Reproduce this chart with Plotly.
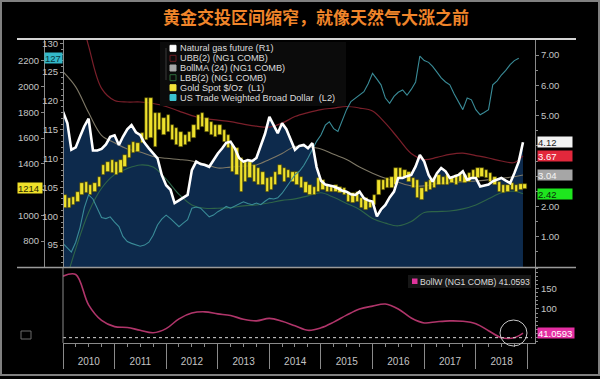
import plotly.graph_objects as go
import pandas as pd

# ---------------- data ----------------
title_text = "黄金交投区间缩窄，就像天然气大涨之前"
months = pd.date_range("2010-01-01", periods=108, freq="MS")

natgas = [5.13, 4.75, 3.87, 3.95, 4.30, 4.65, 4.90, 3.85, 3.85, 3.90, 4.05, 4.30,
          4.35, 4.03, 4.30, 4.55, 4.69, 4.45, 4.36, 4.10, 3.92, 3.75, 3.59, 3.04,
          2.70, 2.55, 2.11, 2.20, 2.30, 2.38, 3.20, 3.48, 3.40, 3.37, 3.31, 3.55,
          3.75, 3.92, 4.10, 4.14, 3.92, 3.60, 3.48, 3.53, 3.50, 3.60, 4.03, 4.40,
          4.96, 4.69, 4.42, 4.75, 4.55, 4.20, 3.87, 4.00, 4.03, 3.92, 4.09, 3.30,
          2.85, 2.72, 2.70, 2.66, 2.60, 2.52, 2.49, 2.40, 2.38, 2.49, 2.27, 2.20,
          2.16, 1.67, 1.90, 2.05, 2.30, 2.49, 2.94, 2.94, 3.00, 3.04, 3.32, 3.70,
          3.48, 3.04, 2.82, 3.10, 3.27, 3.16, 2.94, 3.00, 3.04, 3.16, 2.88, 2.94,
          2.94, 2.66, 2.70, 2.72, 2.83, 2.88, 2.94, 2.85, 2.77, 3.10, 3.48, 4.12]

gold_low = [1056, 1056, 1080, 1103, 1157, 1173, 1157, 1181, 1219, 1313, 1336, 1328,
            1313, 1328, 1375, 1445, 1483, 1491, 1561, 1584, 1600, 1530, 1662, 1623,
            1646, 1584, 1546, 1530, 1546, 1569, 1600, 1662, 1685, 1646, 1623, 1608,
            1623, 1569, 1522, 1336, 1313, 1181, 1258, 1289, 1258, 1235, 1235, 1181,
            1196, 1235, 1313, 1258, 1289, 1258, 1235, 1212, 1173, 1157, 1157, 1181,
            1196, 1181, 1181, 1181, 1173, 1157, 1103, 1095, 1103, 1056, 1041, 1056,
            1080, 1157, 1196, 1212, 1212, 1235, 1289, 1289, 1258, 1212, 1134, 1119,
            1181, 1196, 1212, 1235, 1235, 1235, 1250, 1235, 1258, 1250, 1258, 1289,
            1289, 1297, 1289, 1258, 1235, 1181, 1173, 1181, 1196, 1181, 1196, 1205]
gold_high = [1157, 1134, 1142, 1181, 1250, 1258, 1235, 1250, 1297, 1390, 1413, 1429,
             1413, 1429, 1468, 1546, 1569, 1561, 1639, 1910, 1910, 1794, 1794, 1755,
             1778, 1701, 1677, 1646, 1623, 1646, 1701, 1778, 1794, 1755, 1724, 1701,
             1701, 1662, 1623, 1546, 1522, 1445, 1413, 1413, 1390, 1367, 1336, 1289,
             1297, 1336, 1390, 1367, 1351, 1336, 1336, 1297, 1258, 1235, 1219, 1289,
             1274, 1235, 1219, 1235, 1219, 1212, 1181, 1173, 1181, 1134, 1134, 1103,
             1160, 1274, 1274, 1289, 1297, 1367, 1367, 1351, 1336, 1289, 1274, 1212,
             1258, 1274, 1289, 1313, 1297, 1313, 1297, 1313, 1328, 1313, 1328, 1351,
             1367, 1367, 1351, 1328, 1297, 1258, 1235, 1235, 1250, 1235, 1240, 1245]
gold_last = 1214

dollar = [95.3, 94.5, 93.8, 95.5, 98.0, 101.5, 103.7, 103.0, 101.5, 99.8, 99.6, 99.9,
          99.0, 98.2, 96.5, 95.6, 95.3, 95.0, 94.8, 95.0, 95.5, 96.7, 98.5, 99.5,
          100.2, 99.6, 99.0, 98.2, 98.8, 99.4, 101.4, 101.6, 101.4, 100.6, 99.9, 100.2,
          100.8, 101.2, 101.7, 101.4, 101.8, 102.2, 102.5, 102.2, 102.0, 102.3, 102.0, 102.6,
          103.1, 103.0, 103.2, 104.0, 105.0, 106.2, 107.2, 107.8, 108.8, 110.1, 111.5, 113.0,
          114.1, 115.8, 116.4, 115.2, 114.7, 116.5, 118.5, 119.9, 120.5, 121.0, 121.6, 123.0,
          124.8, 123.8, 122.8, 120.5, 119.6, 120.8, 121.5, 121.9, 121.0, 122.0, 123.3, 127.8,
          127.0, 126.7, 126.0, 125.0, 124.0, 123.3, 122.8, 121.2, 119.9, 118.5, 120.5, 120.2,
          118.5, 117.6, 118.0, 118.5, 122.8, 123.5, 124.5, 125.3, 126.3, 127.0, 127.4]

band_idx = list(range(0, 108, 3)) + [107]
ubb = [10.5, 9.0, 7.3, 5.9, 5.5, 5.45, 5.45, 5.4, 5.3, 5.15, 5.0, 4.9,
       4.85, 4.8, 4.72, 4.65, 4.62, 4.75, 4.97, 5.1, 5.2, 5.25, 5.3, 5.25,
       5.15, 4.75, 4.25, 3.75, 3.55, 3.62, 3.72, 3.76, 3.68, 3.6, 3.5, 3.45, 3.67]
boll_ma = [6.45, 5.95, 5.1, 4.35, 4.1, 3.9, 3.8, 3.65, 3.59, 3.55, 3.5, 3.4,
           3.27, 3.3, 3.33, 3.37, 3.55, 3.75, 3.98, 3.97, 3.9, 3.72, 3.55, 3.3,
           3.1, 2.93, 2.8, 2.68, 2.68, 2.75, 2.78, 2.82, 2.84, 2.88, 2.93, 2.98, 3.04]
lbb = [-0.8, 0.6, 1.8, 2.6, 3.05, 3.25, 3.37, 3.3, 2.9, 2.4, 2.05, 1.94,
       1.94, 1.96, 2.02, 2.05, 2.12, 2.2, 2.25, 2.35, 2.45, 2.3, 2.1, 1.9,
       1.6, 1.45, 1.36, 1.5, 1.8, 1.83, 1.85, 1.92, 2.05, 2.25, 2.45, 2.5, 2.42]
bollw = [180, 184, 110, 72, 57, 55, 48, 42, 52, 76, 90, 93,
         88, 84, 75, 71, 77, 70, 59, 48, 54, 68, 85, 100,
         107, 112, 100, 78, 66, 69, 71, 70, 64, 47, 30, 30, 41.0593]

legend_labels = ["Natural gas future (R1)", "UBB(2) (NG1 COMB)", "BollMA (24) (NG1 COMB)",
                 "LBB(2) (NG1 COMB)", "Gold Spot $/Oz  (L1)", "US Trade Weighted Broad Dollar  (L2)"]
bollw_label = "BollW (NG1 COMB)"

r1_ticks = [1, 2, 3, 4, 5, 6, 7]
r1_text = ["1.00", "2.00", "", "", "5.00", "6.00", "7.00"]
l1_ticks = [800, 1000, 1200, 1400, 1600, 1800, 2000, 2200]
l1_text = ["800", "1000", "", "1400", "1600", "1800", "2000", "2200"]
l2_ticks = [95, 100, 105, 110, 115, 120, 125, 130]
bw_ticks = [50, 100, 150]
bw_text = ["", "100", "150"]

# ---------------- geometry helpers ----------------
W, H = 600, 379
def px(x): return x / W
def py(y): return 1 - y / H

band_dates = months[band_idx]
x_range = ["2010-01-01", "2019-02-24"]

NAVY = "#0d2a4c"
GOLD = "#efe12c"
TEAL = "#3a8c98"
UBB_C = "#7a1f2a"
MA_C = "#7e7866"
LBB_C = "#2e6448"
PINK = "#b0356a"
TICK = "#c4c4c4"
AX = "#8a8a8a"
FONT = "Liberation Sans"

fig = go.Figure()

fig.add_trace(go.Scatter(x=months, y=natgas, xaxis="x", yaxis="y", mode="lines",
                         line=dict(width=0, color=NAVY), fill="tozeroy", fillcolor=NAVY,
                         hoverinfo="skip", showlegend=False))
fig.add_trace(go.Scatter(x=band_dates, y=ubb, xaxis="x", yaxis="y", mode="lines",
                         line=dict(width=1.2, color=UBB_C, shape="spline"), showlegend=False))
fig.add_trace(go.Scatter(x=band_dates, y=boll_ma, xaxis="x", yaxis="y", mode="lines",
                         line=dict(width=1.1, color=MA_C, shape="spline"), showlegend=False))
fig.add_trace(go.Scatter(x=band_dates, y=lbb, xaxis="x", yaxis="y", mode="lines",
                         line=dict(width=1.1, color=LBB_C, shape="spline"), showlegend=False))
fig.add_trace(go.Bar(x=months, y=[h - l for h, l in zip(gold_high, gold_low)], base=gold_low,
                     xaxis="x", yaxis="y2", xperiod="M1", xperiodalignment="middle",
                     width=24 * 86400000, marker=dict(color=GOLD, line=dict(color="#3b3600", width=0.6)),
                     showlegend=False))
fig.add_trace(go.Scatter(x=months[:len(dollar)], y=dollar, xaxis="x", yaxis="y3", mode="lines",
                         line=dict(width=1.1, color=TEAL), showlegend=False))
fig.add_trace(go.Scatter(x=months, y=natgas, xaxis="x", yaxis="y5", mode="lines",
                         line=dict(width=2.6, color="#ffffff"), showlegend=False))
fig.add_trace(go.Scatter(x=band_dates, y=bollw, xaxis="x2", yaxis="y4", mode="lines",
                         line=dict(width=1.6, color=PINK, shape="spline"), showlegend=False))
fig.add_trace(go.Scatter(x=[months[0], months[-1] + pd.DateOffset(months=2)], y=[min(bollw)] * 2,
                         xaxis="x3", yaxis="y4", mode="lines",
                         line=dict(width=1, color="#d8d8d8", dash="dot"), hoverinfo="skip", showlegend=False))

tickfont = dict(family=FONT, size=9.5, color=TICK)
xdom = [px(63), px(535)]
main_dom = [py(267), py(39)]
sub_dom = [py(343), py(268)]

fig.update_layout(
    width=W, height=H, margin=dict(l=0, r=0, t=0, b=0),
    paper_bgcolor="#000000", plot_bgcolor="#000000", showlegend=False,
    bargap=0, font=dict(family=FONT, color=TICK),
    xaxis=dict(domain=xdom, anchor="y", range=x_range, showticklabels=False, showgrid=False,
               zeroline=False, showline=False, ticks=""),
    xaxis2=dict(domain=xdom, anchor="y4", range=x_range, showticklabels=False, showgrid=False,
                zeroline=False, showline=True, linecolor=AX, linewidth=1,
                ticks="outside", ticklen=25, tickcolor=AX, tickwidth=1,
                tick0="2010-01-01", dtick="M12",
                minor=dict(ticks="outside", ticklen=3, tickcolor=AX, dtick="M3", showgrid=False)),
    xaxis3=dict(overlaying="x2", anchor="y4", range=x_range, showgrid=False, zeroline=False,
                showline=False, ticks="outside", ticklen=9, tickcolor="rgba(0,0,0,0)",
                tick0="2010-01-01", dtick="M12", ticklabelmode="period", tickformat="%Y",
                tickfont=dict(family=FONT, size=10, color=TICK)),
    yaxis=dict(domain=main_dom, anchor="x", side="right", range=[0, 7.53],
               tickvals=r1_ticks, ticktext=r1_text, ticks="outside", ticklen=3,
               tickcolor=AX, showline=True, linecolor=AX, showgrid=False, zeroline=False,
               minor=dict(ticks="outside", ticklen=2, tickcolor=AX, dtick=0.5, showgrid=False),
               tickfont=tickfont),
    yaxis2=dict(overlaying="y", anchor="free", position=px(44), side="left", range=[598, 2371],
                tickvals=l1_ticks, ticktext=l1_text, ticks="outside", ticklen=3,
                tickcolor=AX, showline=True, linecolor=AX, showgrid=False, zeroline=False,
                tickfont=tickfont),
    yaxis3=dict(overlaying="y", anchor="free", position=px(63), side="left", range=[91.2, 130.75],
                tickvals=l2_ticks, ticks="outside", ticklen=3,
                tickcolor=AX, showline=True, linecolor=AX, showgrid=False, zeroline=False,
                minor=dict(ticks="outside", ticklen=2, tickcolor=AX, dtick=1, showgrid=False),
                tickfont=tickfont),
    yaxis5=dict(overlaying="y", anchor="x", range=[0, 7.53], visible=False),
    yaxis4=dict(domain=sub_dom, anchor="x2", side="right", range=[17, 200],
                tickvals=bw_ticks, ticktext=bw_text, ticks="outside", ticklen=3, tickcolor=AX,
                showline=True, linecolor=AX, showgrid=False, zeroline=False,
                minor=dict(ticks="outside", ticklen=2, tickcolor=AX, dtick=10, showgrid=False),
                tickfont=tickfont),
)

shapes = []
def pline(x0, y0, x1, y1, color, width):
    shapes.append(dict(type="line", xref="paper", yref="paper", x0=px(x0), y0=py(y0),
                       x1=px(x1), y1=py(y1), line=dict(color=color, width=width), layer="above"))
def prect(x0, y0, x1, y1, fill, line_color=None, width=0):
    shapes.append(dict(type="rect", xref="paper", yref="paper", x0=px(x0), y0=py(y0),
                       x1=px(x1), y1=py(y1), fillcolor=fill,
                       line=dict(color=line_color or fill, width=width), layer="above"))

prect(1, 1, 599, 375, "rgba(0,0,0,0)", "#808080", 2)
pline(17, 39, 576, 39, "#d4d4d4", 2)
pline(17, 267.5, 576, 267.5, "#9a9a9a", 1.5)
pline(63, 268, 63, 343, AX, 1)
prect(160, 42, 346, 106, "#0b0b0b")
sq_colors = [("#ffffff", "#ffffff"), ("rgba(0,0,0,0)", "#6a1c22"), ("#a8a8a8", "#a8a8a8"),
             ("rgba(0,0,0,0)", "#2e6a3a"), ("#f3e43a", "#f3e43a"), ("#3cc2cf", "#3cc2cf")]
rows_y = [48.3, 58.3, 68.0, 77.7, 87.7, 97.5]
for (fc, lc), ry in zip(sq_colors, rows_y):
    prect(170, ry - 3, 176, ry + 3, fc, lc, 1)
pline(166, 48, 166, 80, "#3a3a3a", 1)
prect(408, 275, 531, 288, "#161616")
prect(412, 278.5, 417.5, 284, "#e0349c")
shapes.append(dict(type="circle", xref="paper", yref="paper",
                   x0=px(500), x1=px(527), y0=py(346), y1=py(320),
                   line=dict(color="#c8c8c8", width=1), layer="above"))
prect(21, 331, 31, 339, "rgba(0,0,0,0)", "#6a6a6a", 1)

annotations = []
annotations.append(dict(xref="paper", yref="paper", x=px(316), y=py(17), text=f"<b>{title_text}</b>",
                        showarrow=False, xanchor="center", yanchor="middle",
                        font=dict(family="Noto Sans CJK SC", size=17, color="#f0852a")))
for lab, ry in zip(legend_labels, rows_y):
    annotations.append(dict(xref="paper", yref="paper", x=px(178), y=py(ry), text=lab,
                            showarrow=False, xanchor="left", yanchor="middle",
                            font=dict(family=FONT, size=9.2, color="#dcdcdc")))
annotations.append(dict(xref="paper", yref="paper", x=px(418), y=py(281.5),
                        text=f"{bollw_label} {bollw[-1]:.4f}", showarrow=False,
                        xanchor="left", yanchor="middle",
                        font=dict(family=FONT, size=8.6, color="#dcdcdc")))

def tag(text, yval, yref, x, anchor, bg, fg, w):
    annotations.append(dict(xref="paper", yref=yref, x=px(x), y=yval, text=text, showarrow=False,
                            xanchor=anchor, yanchor="middle", bgcolor=bg, width=w, height=10,
                            align="left", borderpad=0,
                            font=dict(family=FONT, size=9.5, color=fg)))

tag(f"{natgas[-1]:.2f}", natgas[-1], "y", 537, "left", "#f2f2f2", "#222222", 34)
tag(f"{ubb[-1]:.2f}", ubb[-1], "y", 537, "left", "#e2283c", "#ffffff", 34)
tag(f"{boll_ma[-1]:.2f}", boll_ma[-1], "y", 537, "left", "#a6a6a6", "#f4f4f4", 34)
tag(f"{lbb[-1]:.2f}", lbb[-1], "y", 537, "left", "#1ee61e", "#0a2a0a", 34)
tag(f"{gold_last}", gold_last, "y2", 43, "right", "#efe02a", "#2a2a00", 24)
tag(f"{dollar[-1]:.0f}", dollar[-1], "y3", 62.5, "right", "#34b8c8", "#08363c", 17)
tag(f"{bollw[-1]:.4f}", bollw[-1], "y4", 537, "left", "#e42ea2", "#ffffff", 36)

fig.update_layout(shapes=shapes, annotations=annotations)
fig.write_html("out.html", config={"displayModeBar": False},
               post_script="document.body.style.margin='0';document.body.style.overflow='hidden';")
